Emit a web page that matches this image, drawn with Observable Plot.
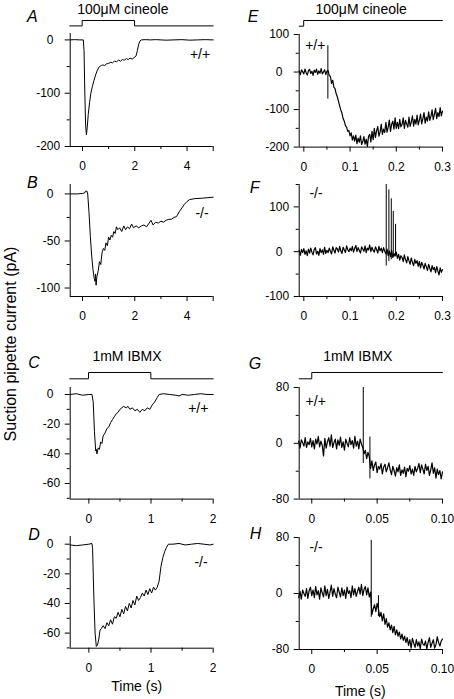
<!DOCTYPE html>
<html><head><meta charset="utf-8">
<script src="https://cdn.jsdelivr.net/npm/d3@7"></script>
<script src="https://cdn.jsdelivr.net/npm/@observablehq/plot@0.6"></script>
<style>
html,body{margin:0;padding:0;background:#fff;}
#fig{position:relative;width:454px;height:699px;overflow:hidden;background:#fff;}
#fig svg{position:absolute;overflow:visible;}
</style></head><body><div id="fig"></div>
<script>
// ---------- DATA ----------
// Slow traces: [time (s), current (pA)]
const traceA = [[-0.47,0],[-0.3,0.5],[-0.1,0],[0.03,0],[0.06,-20],[0.09,-100],[0.12,-160],[0.15,-178],[0.18,-165],[0.22,-140],[0.27,-118],[0.32,-100],[0.38,-87],[0.44,-76],[0.5,-66],[0.56,-58],[0.62,-52],[0.68,-49],[0.72,-48],[0.78,-47],[0.85,-48],[0.92,-45],[1.0,-44],[1.08,-42],[1.15,-43],[1.22,-40],[1.3,-41],[1.38,-38],[1.45,-40],[1.52,-37],[1.6,-38],[1.68,-35],[1.75,-37],[1.82,-34],[1.9,-36],[1.98,-33],[2.05,-30],[2.1,-20],[2.15,-8],[2.2,-2],[2.25,0],[2.4,0.5],[2.6,0],[2.8,0.5],[3.0,0],[3.2,-0.5],[3.5,0],[3.8,0.5],[4.1,-0.5],[4.4,0],[4.7,0.5],[5.0,0]];
const traceB = [[-0.47,0],[-0.2,0],[0.0,0.5],[0.08,1],[0.12,3],[0.17,3],[0.2,0],[0.25,-20],[0.3,-45],[0.35,-65],[0.4,-80],[0.45,-90],[0.48,-93],[0.5,-85],[0.52,-97],[0.55,-88],[0.6,-82],[0.65,-72],[0.7,-75],[0.75,-62],[0.8,-58],[0.85,-60],[0.9,-52],[0.95,-55],[1.0,-46],[1.05,-49],[1.1,-44],[1.15,-46],[1.2,-40],[1.25,-42],[1.3,-35],[1.35,-38],[1.42,-36],[1.5,-40],[1.58,-34],[1.65,-38],[1.72,-35],[1.8,-37],[1.88,-32],[1.95,-36],[2.05,-34],[2.15,-36],[2.25,-34],[2.35,-33],[2.45,-35],[2.55,-31],[2.62,-28],[2.7,-33],[2.8,-30],[2.9,-31],[3.0,-29],[3.1,-30],[3.2,-28],[3.3,-27],[3.4,-27],[3.5,-25],[3.6,-24],[3.7,-19],[3.8,-15],[3.9,-11],[4.0,-8],[4.1,-6],[4.3,-5],[4.6,-4.5],[5.0,-3.5]];
const traceC = [[-0.3,0],[-0.2,0.5],[-0.1,-0.5],[0,0],[0.05,0],[0.07,-5],[0.09,-25],[0.11,-38],[0.12,-37],[0.13,-40],[0.15,-36],[0.17,-37],[0.19,-32],[0.21,-33],[0.23,-28],[0.26,-26],[0.29,-23],[0.32,-22],[0.35,-19],[0.38,-17],[0.41,-15],[0.44,-13],[0.47,-12],[0.5,-10],[0.53,-9],[0.56,-8],[0.6,-9],[0.63,-8],[0.66,-10],[0.7,-9],[0.74,-11],[0.78,-10],[0.82,-12],[0.86,-10],[0.9,-11],[0.94,-9],[0.98,-10],[1.02,-7],[1.06,-5],[1.1,-2],[1.13,0],[1.2,0.5],[1.3,0],[1.4,-0.5],[1.45,-1],[1.5,0],[1.6,-0.5],[1.7,0],[1.8,0.5],[1.9,0],[2.0,0]];
const traceD = [[-0.3,-0.5],[-0.2,-1],[-0.1,-0.5],[0,0],[0.05,0.5],[0.06,-3],[0.08,-35],[0.1,-60],[0.12,-69],[0.14,-68],[0.16,-64],[0.18,-58],[0.2,-57],[0.23,-55],[0.26,-57],[0.29,-53],[0.32,-55],[0.35,-51],[0.38,-54],[0.41,-49],[0.44,-50],[0.47,-46],[0.5,-49],[0.53,-44],[0.56,-47],[0.59,-42],[0.62,-45],[0.65,-40],[0.68,-43],[0.71,-38],[0.74,-41],[0.77,-35],[0.8,-38],[0.83,-36],[0.86,-33],[0.89,-35],[0.92,-31],[0.95,-34],[0.98,-30],[1.01,-33],[1.04,-29],[1.07,-31],[1.1,-29],[1.13,-25],[1.16,-15],[1.19,-9],[1.22,-5],[1.25,-2],[1.28,0],[1.35,0],[1.45,0.5],[1.55,-0.5],[1.65,0],[1.75,0.5],[1.85,0],[1.95,-0.5],[2.0,0]];

// Fast (noisy) traces: sampled values (pA) with start time and sample interval (s)
const startE = -0.01, stepE = 0.0025;
const valuesE = [3,-7,6,1,-5,8,-2,-8,4,7,-4,2,-9,5,-1,8,-6,3,-3,9,-5,0,6,-7,2,
  4,-9,-12,-30,-22,-40,-44,-58,-66,-78,
  -90,-101,-110,-124,-131,-143,-147,-158,-156,-170,
  -162,-181,-170,-184,-168,-191,-176,-187,-170,-193,
  -186,-172,-192,-179,-198,-171,-166,-186,-158,-180,
  -150,-174,-156,-145,-171,-160,-139,-166,-152,-161,
  -134,-160,-147,-128,-158,-139,-131,-152,-122,-150,
  -134,-151,-126,-146,-140,-122,-150,-129,-138,-147,
  -120,-145,-133,-117,-144,-126,-139,-115,-141,-128,
  -112,-138,-125,-108,-136,-120,-131,-106,-129,-118,
  -101,-127,-112,-97,-124,-108,-119,-95,-117,-104];
const startF = -0.01, stepF = 0.0025;
const valuesF = [3,-8,5,-2,7,
  -6,2,-9,6,-3,8,-1,-7,5,9,-5,1,-8,7,-2,4,-6,10,-4,3,
  -2,8,1,-5,11,3,-3,9,6,-1,12,2,-4,10,4,-2,13,5,0,8,
  2,12,-1,7,14,0,9,3,-3,11,6,1,13,-2,8,4,15,0,10,3,
  -1,11,5,-3,12,2,8,-2,9,1,
  -5,6,-9,2,-11,3,-13,-4,-10,-1,
  -15,-6,-19,-9,-13,-22,-7,-18,-25,-11,-20,-28,-14,-24,-31,-17,-26,-20,-33,-22,
  -36,-24,-30,-39,-26,-34,-42,-28,-37,-45,-31,-40,-35,-47,-33,-43,-52,-36,-46,-40];
const startG = -0.01, stepG = 0.001;
const valuesG = [3,-7,5,1,-4,8,-6,2,-2,7,-5,
  4,-8,6,-1,10,-5,3,-3,-18,7,-7,2,8,-4,12,-6,1,6,-8,5,
  -3,9,-6,2,-10,6,0,-5,8,-2,4,-7,10,-4,3,-8,6,-1,-6,
  -15,-10,-22,-13,-19,
  -36,-25,-39,-31,-27,-42,-33,-37,-29,-44,-34,-30,-41,-35,-28,-38,
  -45,-33,-39,-47,-35,-41,-31,-46,-38,-43,-34,-48,-36,-40,-32,-44,-37,-46,-33,-41,
  -36,-29,-42,-31,-37,-44,-30,-39,-33,-46,-38,-28,-43,-35,-50,-37,-45,-39,-51,-41];
const startH = -0.01, stepH = 0.001;
const valuesH = [-6,3,-8,5,0,-4,7,-7,4,9,-3,
  5,-6,10,-2,4,-8,8,1,-5,11,-3,6,-7,2,12,-4,7,-1,-6,9,
  2,-5,8,-3,5,-7,9,0,4,-6,11,-2,7,-4,3,9,-1,13,-3,6,10,-2,8,-5,2,
  -30,-22,-16,-26,-14,
  -22,-33,-27,-39,-29,-44,-36,-48,-42,-52,-45,-56,-47,-59,-52,-61,-55,-65,-58,-67,
  -61,-70,-63,-74,-66,-78,-64,-71,-77,-66,-75,-69,-79,-65,-72,-74,-68,-79,-70,-63,-77,-71,-66,-78,-73,-62,-70,-75,-68,-65];

// Fast transient spikes: time, lowest and highest current
const spikeE_t = [0.052], spikeE_lo = [-72], spikeE_hi = [70];
const spikeF_t = [0.1783,0.184,0.1892,0.1935,0.1985], spikeF_lo = [-32,-22,-18,-12,-10], spikeF_hi = [150,138,118,90,61];
const spikeG_t = [0.0394,0.0445], spikeG_lo = [-29,-51], spikeG_hi = [80,9];
const spikeH_t = [0.0455,0.051], spikeH_lo = [-34,-33], spikeH_hi = [76,-3];

// Stimulus protocols: [time, off(0)/on(1)]
const stimA = [[-0.47,0],[0,0],[0,1],[2,1],[2,0],[5,0]];
const stimC = [[-0.3,0],[0,0],[0,1],[1,1],[1,0],[2,0]];
const stimE = [[-0.0096,0],[0,0],[0,1],[0.3,1]];
const stimG = [[-0.0096,0],[0,0],[0,1],[0.1,1]];

// Ticks and tick labels
const xMajorAB = [0,2,4,5], xLabelsAB = ["0","2","4",""], xMinorAB = [1,3];
const xMajorCD = [0,1,2], xLabelsCD = ["0","1","2"], xMinorCD = [0.5,1.5];
const xMajorEF = [0,0.1,0.2,0.3], xLabelsEF = ["0","0.1","0.2","0.3"], xMinorEF = [0.05,0.15,0.25];
const xMajorGH = [0,0.05,0.1], xLabelsGH = ["0","0.05","0.10"], xMinorGH = [0.025,0.075];
const yMajorA = [0,-100,-200], yLabelsA = ["0","-100","-200"], yMinorA = [-50,-150];
const yMajorB = [0,-50,-100], yLabelsB = ["0","-50","-100"], yMinorB = [-25,-75];
const yMajorCD = [0,-20,-40,-60], yLabelsCD = ["0","-20","-40","-60"], yMinorCD = [-10,-30,-50,-70];
const yMajorE = [100,0,-100,-200], yLabelsE = ["100","0","-100","-200"], yMinorE = [50,-50,-150];
const yMajorF = [100,0,-100], yLabelsF = ["100","0","-100"], yMinorF = [150,50,-50];
const yMajorGH = [80,0,-80], yLabelsGH = ["80","0","-80"], yMinorGH = [40,-40];

// ---------- DRAWING ----------
const fontFamily = 'Arial, "Liberation Sans", Helvetica, sans-serif';
const fig = document.getElementById("fig");
const pairs = a => a.map(([t, v]) => ({t, v}));
const sampled = (start, step, vals) => vals.map((v, i) => ({t: start + i * step, v}));
const spikes = (t, lo, hi) => t.map((x, i) => ({t: x, lo: lo[i], hi: hi[i]}));

function place(el, left, top) {
  el.style.position = "absolute";
  el.style.left = left + "px";
  el.style.top = top + "px";
  fig.appendChild(el);
}
const fmt = (ticks, labels, zeroPad) => d => {
  const s = labels[ticks.indexOf(d)] ?? "";
  return zeroPad && d === 0 ? s + "\u2007" : s;
};
const baseStyle = {background: "transparent", fontFamily, fontSize: "12px", color: "black", overflow: "visible"};

function panel(p) {
  const colLeft = p.col * 227, W = 227, mt = 12, mb = 32;
  const marks = [
    Plot.ruleX([p.xDomain[0]], {stroke: "black", strokeWidth: 1}),
    Plot.ruleY([p.yDomain[0]], {stroke: "black", strokeWidth: 1}),
    Plot.axisX({anchor: "bottom", ticks: p.xMajor, tickSize: 5, tickPadding: 10, tickFormat: fmt(p.xMajor, p.xLabels, false), label: null, fontSize: 12}),
    Plot.axisX({anchor: "bottom", ticks: p.xMinor, tickSize: 3, tickFormat: () => "", label: null}),
    Plot.axisY({anchor: "left", ticks: p.yMajor, tickSize: 5, tickPadding: 5, tickFormat: fmt(p.yMajor, p.yLabels, true), label: null, fontSize: 12}),
    Plot.axisY({anchor: "left", ticks: p.yMinor, tickSize: 3, tickFormat: () => "", label: null}),
    Plot.line(p.data, {x: "t", y: "v", stroke: "black", strokeWidth: p.lw || 1})
  ];
  if (p.spikes) marks.push(Plot.ruleX(p.spikes, {x: "t", y1: "lo", y2: "hi", stroke: "black", strokeWidth: 1}));
  const svg = Plot.plot({
    width: W, height: p.bottom - p.top + mt + mb,
    marginLeft: p.left - colLeft, marginRight: colLeft + W - p.right,
    marginTop: mt, marginBottom: mb,
    x: {domain: p.xDomain}, y: {domain: p.yDomain},
    style: baseStyle,
    marks
  });
  place(svg, colLeft, p.top - mt);
}

function stimulus(s) {
  const colLeft = s.col * 227, W = 227, m = 3;
  const svg = Plot.plot({
    width: W, height: s.low - s.high + 2 * m,
    marginLeft: s.left - colLeft, marginRight: colLeft + W - s.right,
    marginTop: m, marginBottom: m,
    x: {domain: s.xDomain, axis: null}, y: {domain: [0, 1], axis: null},
    style: baseStyle,
    marks: [Plot.line(pairs(s.data), {x: "t", y: "v", stroke: "black", strokeWidth: 1})]
  });
  place(svg, colLeft, s.high - m);
}

const L = {left: 69.7, right: 212.7}, R = {left: 298.7, right: 442};

panel({col: 0, ...L, top: 33.3, bottom: 146.3, xDomain: [-0.47, 5], yDomain: [-200, 12], data: pairs(traceA),
  xMajor: xMajorAB, xLabels: xLabelsAB, xMinor: xMinorAB, yMajor: yMajorA, yLabels: yLabelsA, yMinor: yMinorA});
panel({col: 0, ...L, top: 184, bottom: 296, xDomain: [-0.47, 5], yDomain: [-109, 10], data: pairs(traceB),
  xMajor: xMajorAB, xLabels: xLabelsAB, xMinor: xMinorAB, yMajor: yMajorB, yLabels: yLabelsB, yMinor: yMinorB});
panel({col: 0, ...L, top: 386.7, bottom: 498.3, xDomain: [-0.3, 2], yDomain: [-70.5, 4.7], data: pairs(traceC),
  xMajor: xMajorCD, xLabels: xLabelsCD, xMinor: xMinorCD, yMajor: yMajorCD, yLabels: yLabelsCD, yMinor: yMinorCD});
panel({col: 0, ...L, top: 536, bottom: 647.7, xDomain: [-0.3, 2], yDomain: [-70.2, 5.2], data: pairs(traceD),
  xMajor: xMajorCD, xLabels: xLabelsCD, xMinor: xMinorCD, yMajor: yMajorCD, yLabels: yLabelsCD, yMinor: yMinorCD});
panel({col: 1, ...R, top: 33.7, bottom: 146.3, xDomain: [-0.01, 0.3], yDomain: [-200, 100], data: sampled(startE, stepE, valuesE),
  spikes: spikes(spikeE_t, spikeE_lo, spikeE_hi), lw: 1.2,
  xMajor: xMajorEF, xLabels: xLabelsEF, xMinor: xMinorEF, yMajor: yMajorE, yLabels: yLabelsE, yMinor: yMinorE});
panel({col: 1, ...R, top: 184, bottom: 296, xDomain: [-0.01, 0.3], yDomain: [-100, 150], data: sampled(startF, stepF, valuesF),
  spikes: spikes(spikeF_t, spikeF_lo, spikeF_hi), lw: 1.2,
  xMajor: xMajorEF, xLabels: xLabelsEF, xMinor: xMinorEF, yMajor: yMajorF, yLabels: yLabelsF, yMinor: yMinorF});
panel({col: 1, ...R, top: 386.7, bottom: 498.3, xDomain: [-0.0096, 0.1], yDomain: [-80, 80], data: sampled(startG, stepG, valuesG),
  spikes: spikes(spikeG_t, spikeG_lo, spikeG_hi), lw: 1.2,
  xMajor: xMajorGH, xLabels: xLabelsGH, xMinor: xMinorGH, yMajor: yMajorGH, yLabels: yLabelsGH, yMinor: yMinorGH});
panel({col: 1, ...R, top: 536.7, bottom: 648.7, xDomain: [-0.0096, 0.1], yDomain: [-80, 80], data: sampled(startH, stepH, valuesH),
  spikes: spikes(spikeH_t, spikeH_lo, spikeH_hi), lw: 1.2,
  xMajor: xMajorGH, xLabels: xLabelsGH, xMinor: xMinorGH, yMajor: yMajorGH, yLabels: yLabelsGH, yMinor: yMinorGH});

stimulus({col: 0, left: 69.3, right: 212.7, low: 25.7, high: 20.3, xDomain: [-0.47, 5], data: stimA});
stimulus({col: 0, left: 69.3, right: 212.7, low: 378.3, high: 372, xDomain: [-0.3, 2], data: stimC});
stimulus({col: 1, ...R, low: 25.7, high: 20, xDomain: [-0.0096, 0.3], data: stimE});
stimulus({col: 1, ...R, low: 378.3, high: 372, xDomain: [-0.0096, 0.1], data: stimG});

// ---------- TEXT ----------
const ov = d3.create("svg").attr("width", 454).attr("height", 699)
  .style("position", "absolute").style("left", "0px").style("top", "0px")
  .style("font-family", fontFamily).style("overflow", "visible");
const letters = [["A", 27, 21.7], ["B", 27, 187.5], ["C", 28.3, 368.3], ["D", 28.3, 540], ["E", 247.7, 21.7], ["F", 249.7, 193.3], ["G", 248.7, 369.3], ["H", 249.7, 539.3]];
letters.forEach(([s, x, y]) => ov.append("text").attr("x", x).attr("y", y).attr("font-size", 16).attr("font-style", "italic").text(s));
const titles = [["100\u03BCM cineole", 122.8, 13.5], ["100\u03BCM cineole", 361.2, 13.5], ["1mM IBMX", 127, 360.7], ["1mM IBMX", 357.8, 360.7]];
titles.forEach(([s, x, y]) => ov.append("text").attr("x", x).attr("y", y).attr("font-size", 14).attr("text-anchor", "middle").text(s));
const geno = [["+/+", 200, 54], ["-/-", 202, 213], ["+/+", 198.3, 408], ["-/-", 201, 561.7], ["+/+", 315.3, 45], ["-/-", 316, 193.3], ["+/+", 315.7, 400.5], ["-/-", 316, 546.7]];
geno.forEach(([s, x, y]) => ov.append("text").attr("x", x).attr("y", y).attr("font-size", 14).attr("text-anchor", "middle").attr("dominant-baseline", "central").text(s));
[["Time (s)", 136.7, 685.7], ["Time (s)", 360.3, 690.7]].forEach(([s, x, y]) =>
  ov.append("text").attr("x", x).attr("y", y).attr("font-size", 14).attr("text-anchor", "middle").attr("dominant-baseline", "central").text(s));
ov.append("text").attr("transform", "translate(10,344) rotate(-90)").attr("font-size", 16)
  .attr("text-anchor", "middle").attr("dominant-baseline", "central").text("Suction pipette current (pA)");
fig.appendChild(ov.node());
</script></body></html>
